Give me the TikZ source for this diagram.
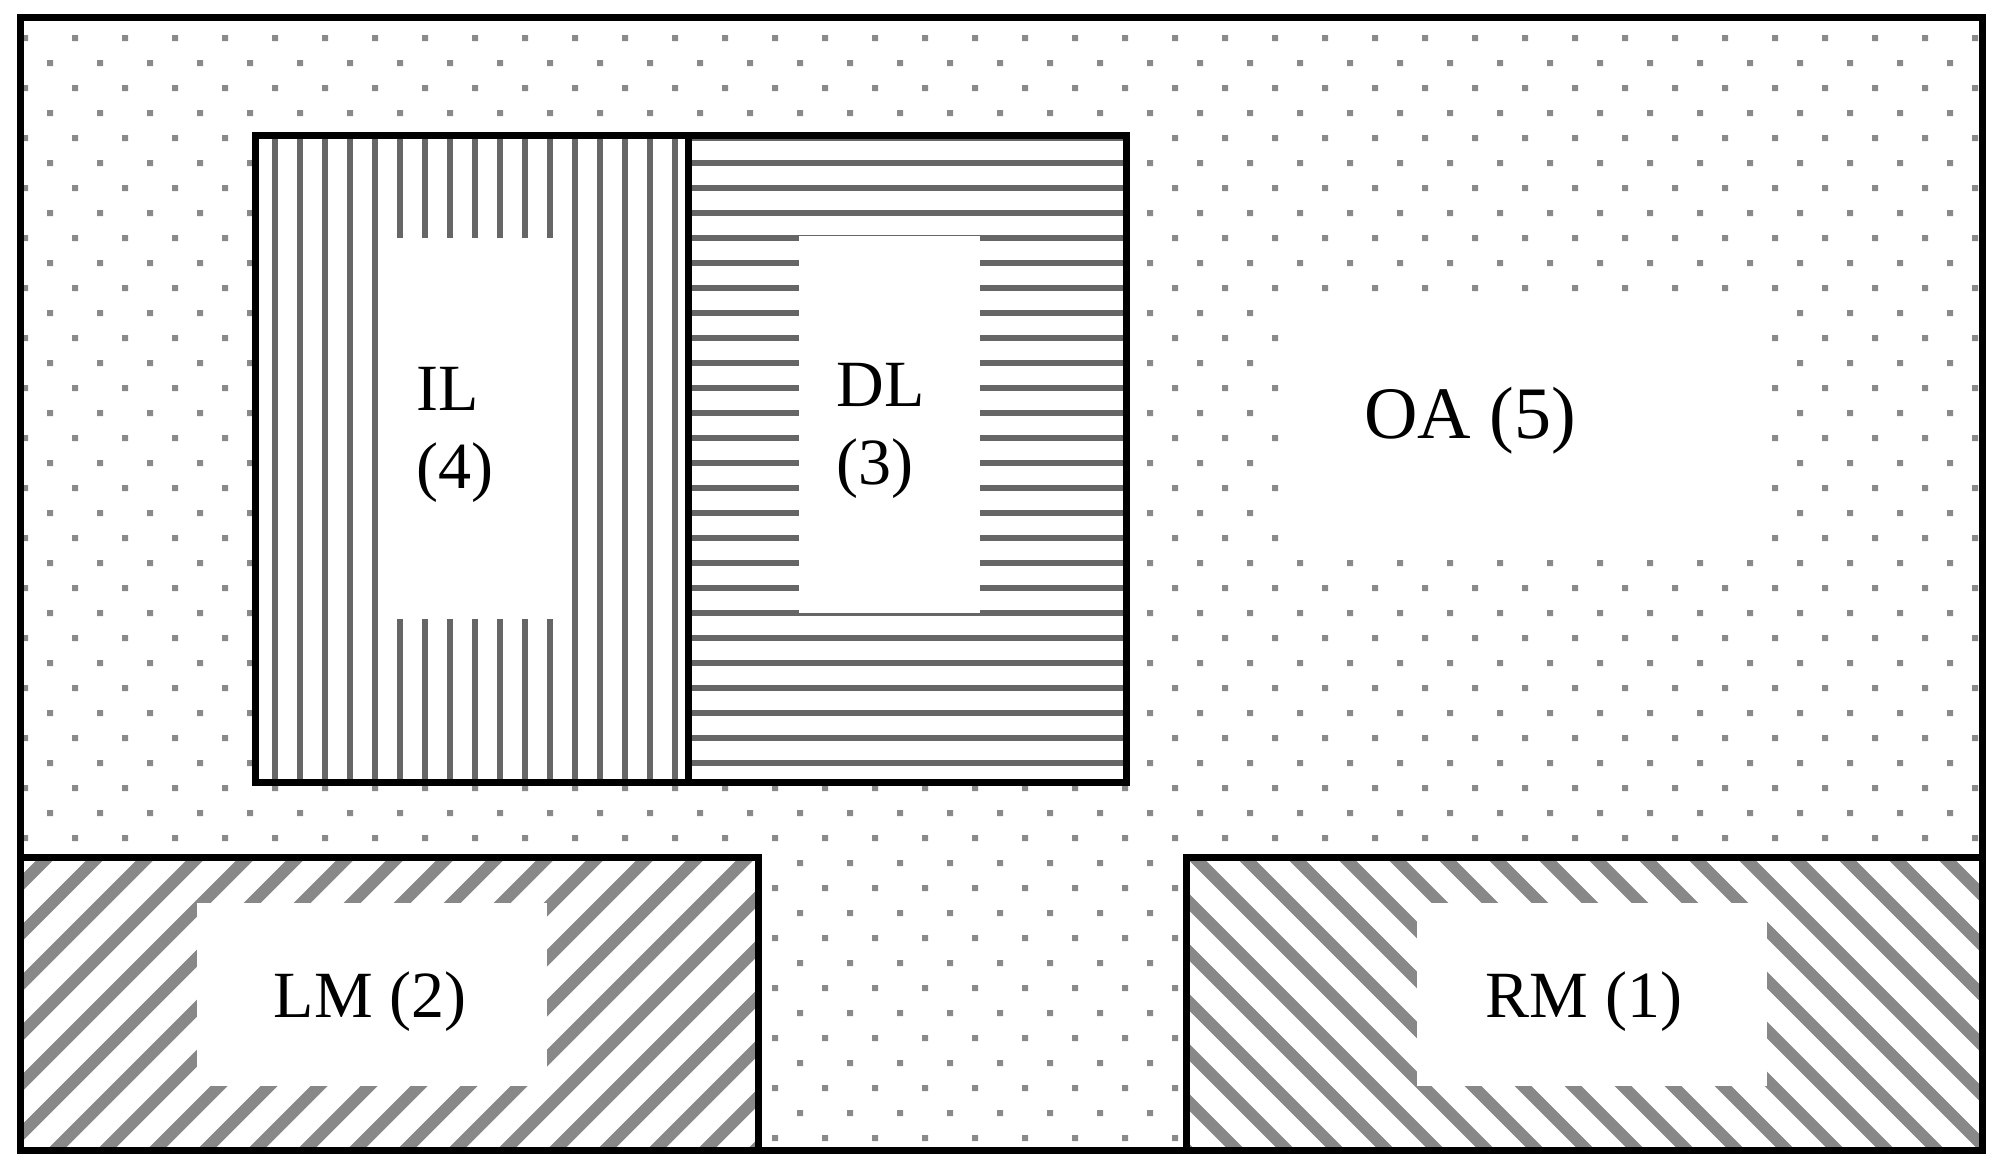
\documentclass[tikz,border=0pt]{standalone}
\usepackage{fontspec}
\setmainfont{Liberation Serif}
\definecolor{dotc}{HTML}{8A8A8A}
\definecolor{stripec}{HTML}{666666}
\definecolor{hatchc}{HTML}{888888}
\begin{document}
\begin{tikzpicture}[x=0.5pt,y=-0.5pt,
  box/.style={draw=black,line width=3.5pt},
  stripe/.style={draw=stripec,line width=3pt},
  hatch/.style={draw=hatchc,line width=6pt},
  lbl/.style={font=\fontsize{33}{39}\selectfont,inner sep=0pt},
]
\fill[white] (0,0) rectangle (2002,1173);
\useasboundingbox (0,0) rectangle (2002,1173);
% dotted background (OA)
\fill[dotc] \foreach \r in {0,...,22} { \foreach \c in {0,...,39} { ({22+50*\c},{35+50*\r}) rectangle ++(6,6) } };
\fill[dotc] \foreach \r in {0,...,21} { \foreach \c in {0,...,38} { ({47+50*\c},{60+50*\r}) rectangle ++(6,6) } };
\fill[white] (1290,300) rectangle (1770,550);
% IL box (vertical stripes)
\fill[white] (255,135) rectangle (688,782);
\foreach \i in {0,...,16} \draw[stripe] ({275+25*\i},135) -- ({275+25*\i},782);
\fill[white] (381,238) rectangle (569,619);
% DL box (horizontal stripes)
\fill[white] (688,135) rectangle (1126,782);
\foreach \i in {0,...,25} \draw[stripe] (688,{138.3+25*\i}) -- (1126,{138.3+25*\i});
\fill[white] (799,236) rectangle (980,613);
% LM box (hatch /)
\begin{scope}
\clip (20.5,857) rectangle (758.5,1150.5);
\fill[white] (20.5,857) rectangle (758.5,1150.5);
\foreach \c in {855,905,...,1955} \draw[hatch] ({\c-1200},1200) -- ({\c-800},800);
\end{scope}
\fill[white] (197,903) rectangle (547,1086);
% RM box (hatch \)
\begin{scope}
\clip (1186,857) rectangle (1982.5,1150.5);
\fill[white] (1186,857) rectangle (1982.5,1150.5);
\foreach \d in {-13,37,...,1137} \draw[hatch] ({\d+800},800) -- ({\d+1200},1200);
\end{scope}
\fill[white] (1417,903) rectangle (1767,1086);
% borders
\draw[box] (255,135) rectangle (688,782);
\draw[box] (688,135) rectangle (1126,782);
\draw[box] (20.5,857) rectangle (758.5,1150.5);
\draw[box] (1186,857) rectangle (1982.5,1150.5);
\draw[box] (20.5,17.5) rectangle (1982.5,1150.5);
% labels
\node[lbl,anchor=north west,align=left] (il) at (416,367) {IL\\(4)};
\node[lbl,anchor=north west,align=left] (dl) at (836,363) {DL\\(3)};
\node[lbl,anchor=base,font=\fontsize{37}{44}\selectfont] (oa) at (1470,438) {OA (5)};
\node[lbl,anchor=base] (lm) at (370,1017) {LM (2)};
\node[lbl,anchor=base] (rm) at (1584,1017) {RM (1)};
\end{tikzpicture}
\end{document}
